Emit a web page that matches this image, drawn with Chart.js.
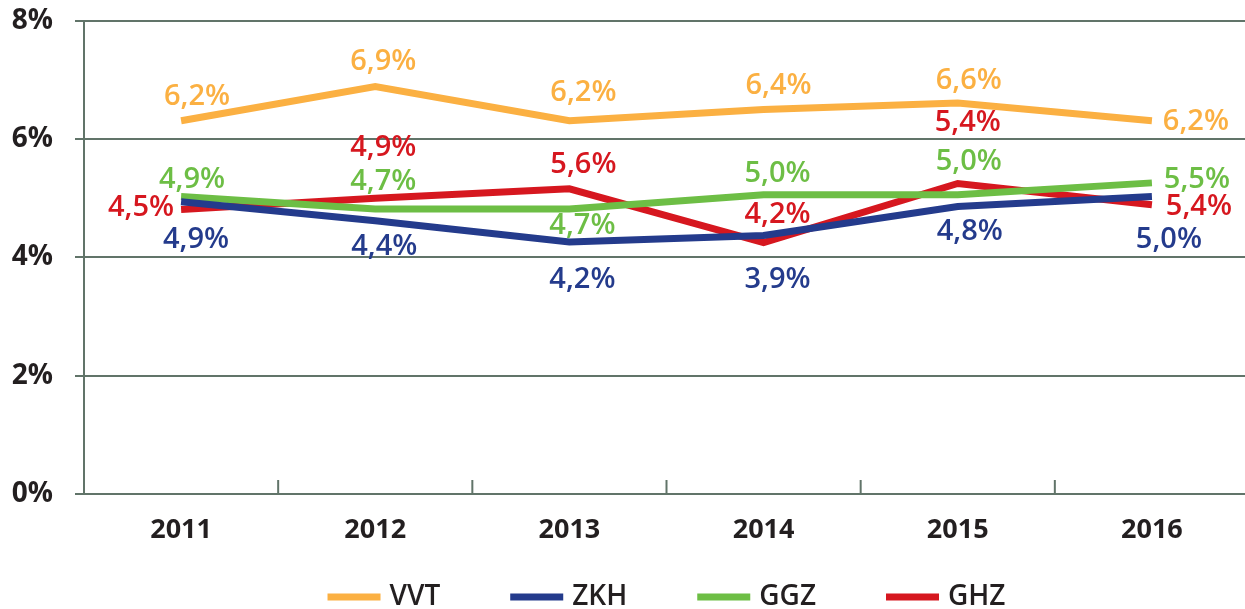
<!DOCTYPE html>
<html>
<head>
<meta charset="utf-8">
<script src="https://cdn.jsdelivr.net/npm/chart.js@4/dist/chart.umd.min.js"></script>
<style>
  html, body { margin: 0; padding: 0; background: #fff; overflow: hidden; }
  #wrap { position: absolute; left: 0; top: -18px; width: 1260px; height: 627px; }
</style>
</head>
<body>
<div id="wrap"><canvas id="chart"></canvas></div>
<script>
const years = ["2011", "2012", "2013", "2014", "2015", "2016"];
const seriesNames = ["VVT", "ZKH", "GGZ", "GHZ"];

// line positions as drawn
const vvt = [6.31, 6.89, 6.31, 6.50, 6.61, 6.31];
const zkh = [4.94, 4.62, 4.26, 4.37, 4.86, 5.03];
const ggz = [5.03, 4.82, 4.82, 5.06, 5.06, 5.26];
const ghz = [4.81, 5.00, 5.16, 4.25, 5.25, 4.89];

// printed labels
const vvtLabels = ["6,2%", "6,9%", "6,2%", "6,4%", "6,6%", "6,2%"];
const zkhLabels = ["4,9%", "4,4%", "4,2%", "3,9%", "4,8%", "5,0%"];
const ggzLabels = ["4,9%", "4,7%", "4,7%", "5,0%", "5,0%", "5,5%"];
const ghzLabels = ["4,5%", "4,9%", "5,6%", "4,2%", "5,4%", "5,4%"];

const yMin = 0;
const yMax = 8;
const yStep = 2;

// label placement relative to the point (px)
const labelOffsets = [
  [[16, -24], [8, -25], [14, -28], [15, -24], [11, -22], [44, 1]],
  [[15, 38], [9, 26], [13, 38], [14, 44], [12, 25], [17, 43]],
  [[11, -17], [8, -27], [13, 17], [14, -21], [11, -33], [45, -3]],
  [[-40, -2], [8, -51], [14, -24], [14, -28], [10, -61], [47, 2]]
];

const colors = ["#fbb042", "#243b8c", "#6dbe45", "#d6171f"];
const gridColor = "#617469";
const textColor = "#231f20";
const font = "'Open Sans', 'DejaVu Sans', sans-serif";

const values = [vvt, zkh, ggz, ghz];
const labels = [vvtLabels, zkhLabels, ggzLabels, ghzLabels];

const pointLabels = {
  id: "pointLabels",
  afterDatasetsDraw(chart) {
    const { ctx } = chart;
    ctx.save();
    ctx.font = `600 29px ${font}`;
    ctx.textAlign = "center";
    ctx.textBaseline = "middle";
    chart.data.datasets.forEach((ds, i) => {
      const meta = chart.getDatasetMeta(i);
      meta.data.forEach((pt, j) => {
        const [dx, dy] = labelOffsets[i][j];
        ctx.fillStyle = colors[i];
        ctx.fillText(labels[i][j], pt.x + dx, pt.y + dy);
      });
    });
    ctx.restore();
  }
};

// small tick marks pointing up from the x axis, between categories
const innerTicks = {
  id: "innerTicks",
  beforeDatasetsDraw(chart) {
    const { ctx, scales: { x, y } } = chart;
    const base = y.getPixelForValue(0);
    ctx.save();
    ctx.strokeStyle = gridColor;
    ctx.lineWidth = 2;
    for (let i = 1; i <= years.length; i++) {
      const px = (x.getPixelForValue(i - 1) + x.getPixelForValue(i)) / 2;
      ctx.beginPath();
      ctx.moveTo(px, base);
      ctx.lineTo(px, base - 14);
      ctx.stroke();
    }
    ctx.restore();
  }
};

// legend row under the axis
const legendRow = {
  id: "legendRow",
  afterDraw(chart) {
    const { ctx, chartArea } = chart;
    const box = 53, boxH = 7, gap = 9, space = 70;
    ctx.save();
    ctx.font = `600 28px ${font}`;
    ctx.textBaseline = "middle";
    ctx.textAlign = "left";
    const widths = seriesNames.map((n) => box + gap + ctx.measureText(n).width);
    const total = widths.reduce((a, b) => a + b, 0) + space * (widths.length - 1);
    let x = (chartArea.left + chartArea.right) / 2 - total / 2;
    const yc = chart.height - 12;
    seriesNames.forEach((name, i) => {
      ctx.fillStyle = colors[i];
      ctx.fillRect(x, yc - boxH / 2, box, boxH);
      ctx.fillStyle = textColor;
      ctx.fillText(name, x + box + gap, yc);
      x += widths[i] + space;
    });
    ctx.restore();
  }
};

new Chart(document.getElementById("chart"), {
  type: "line",
  data: {
    labels: years,
    datasets: seriesNames.map((name, i) => ({
      label: name,
      data: values[i],
      borderColor: colors[i],
      backgroundColor: colors[i],
      borderWidth: 7,
      borderCapStyle: "butt",
      pointRadius: 0,
      tension: 0,
      fill: false
    }))
  },
  options: {
    responsive: true,
    maintainAspectRatio: false,
    animation: false,
    layout: { padding: { top: 4, right: 11, left: 0, bottom: 0 } },
    plugins: {
      tooltip: { enabled: false },
      legend: { display: false }
    },
    scales: {
      x: {
        offset: true,
        grid: { display: false, drawTicks: false },
        border: { display: false },
        ticks: {
          color: textColor,
          padding: 20,
          maxRotation: 0,
          font: { family: font, size: 27, weight: "bold" }
        },
        afterFit(scale) { scale.height = 115; }
      },
      y: {
        min: yMin,
        max: yMax,
        grid: { color: gridColor, lineWidth: 2, tickLength: 9, drawTicks: true },
        border: { display: true, color: gridColor, width: 2 },
        ticks: {
          stepSize: yStep,
          color: textColor,
          padding: 22,
          font: { family: font, size: 28, weight: "bold" },
          callback: (v) => v + "%"
        },
        afterFit(scale) { scale.width = 84; }
      }
    }
  },
  plugins: [innerTicks, pointLabels, legendRow]
});
</script>
</body>
</html>
